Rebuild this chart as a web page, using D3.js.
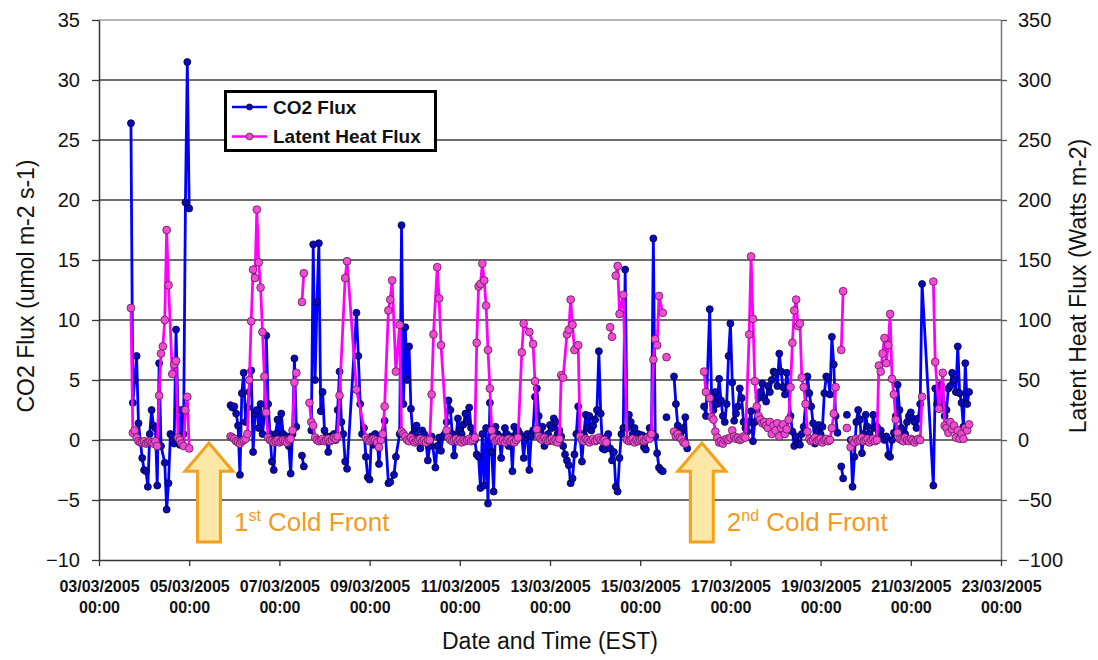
<!DOCTYPE html>
<html>
<head>
<meta charset="utf-8">
<script src="https://cdn.jsdelivr.net/npm/d3@7"></script>
<style>
  body { margin: 0; background: #fff; }
  svg { display: block; }
  text { font-family: "Liberation Sans", Arial, Helvetica, sans-serif; }
</style>
</head>
<body>
<svg id="chart" width="1098" height="660"></svg>
<script>
// Hourly observations, March 2005. Each entry: [hours since 03/03/2005 00:00 EST, value].
// null marks a break in the record.

// CO2 flux (umol m-2 s-1), left axis
const co2Flux = [
  [17,26.4],[18,3.1],[19,5.0],[20,7.0],[21,1.4],[23,-1.5],[24,-2.5],[25,-2.6],[26,-3.9],[27,0.5],
  [28,2.5],[29,1.2],[30,1.0],[31,-3.8],[32,6.4],[33,-0.5],[35,-1.9],[36,-5.8],[37,-3.6],[38,0.5],
  [39,0.3],[40,-0.3],[41,9.2],[42,2.5],[43,-0.4],[44,2.5],[45,0.5],[46,19.8],[47,31.5],[48,19.3],
  [49,null],
  [70,2.9],[71,2.7],[72,2.8],[73,2.2],[74,1.2],[75,-2.9],[76,3.9],[77,5.6],[78,1.5],[79,2.7],
  [80,4.0],[81,5.8],[82,-1.0],[83,2.2],[84,2.5],[85,1.0],[86,3.0],[87,0.5],[88,2.0],[89,8.7],
  [90,3.0],[91,0.5],[92,-1.8],[93,-2.5],[94,0.5],[95,1.7],[96,0.3],[97,2.2],[98,0.5],[99,0.0],
  [100,0.3],[101,-0.5],[102,-2.8],[103,0.5],[104,6.8],[105,1.1],[106,null],[108,-1.3],[109,-2.2],[110,null],
  [113,0.8],[114,16.3],[115,5.0],[116,11.5],[117,16.4],[118,2.4],[119,4.0],[120,0.8],[121,0.3],[122,-1.0],
  [123,0.3],[124,0.3],[125,0.5],[126,0.0],[127,2.5],[128,5.7],[129,1.5],[130,0.5],[131,-1.8],[132,-2.4],
  [137,10.6],[138,7.0],[139,3.0],[140,0.5],[141,1.0],[142,-1.4],[143,-3.1],[144,-3.3],[145,0.3],[146,-0.4],
  [147,0.5],[148,0.0],[149,-2.0],[150,0.3],[152,1.6],[154,-3.6],[155,-3.5],[157,-2.9],[158,-1.4],[160,0.5],
  [161,17.9],[162,3.0],[163,9.4],[164,5.0],[165,7.8],[166,2.6],[167,0.5],[168,1.0],[169,1.2],[170,0.2],
  [171,-0.7],[172,0.8],[173,0.5],[174,-0.2],[175,-1.7],[176,-0.5],[177,0.3],[179,-2.3],[180,-0.5],[181,0.2],
  [182,-0.9],[183,0.3],[184,0.5],[185,1.5],[186,3.3],[187,2.5],[188,0.5],[189,-1.3],[190,0.3],[191,1.8],
  [192,0.8],[193,0.5],[194,1.3],[195,2.2],[196,1.5],[197,2.7],[198,1.0],[199,0.5],[200,0.0],[201,-1.2],
  [202,-1.4],[203,-4.0],[204,0.5],[205,-3.8],[206,1.0],[207,-5.3],[208,3.1],[209,-1.0],[210,-4.3],[211,1.1],
  [212,0.5],[213,0.3],[214,-1.5],[215,0.2],[216,1.0],[217,0.5],[218,-0.5],[219,0.3],[220,-2.6],[221,1.1],
  [222,0.5],[223,0.8],[224,0.5],[225,0.3],[226,-1.5],[227,0.2],[228,0.5],[229,-2.5],[230,0.3],[231,0.8],
  [232,3.6],[233,4.3],[234,2.0],[235,0.5],[236,1.1],[237,-0.5],[238,0.3],[239,0.5],[240,1.25],[241,1.0],
  [242,1.8],[243,1.5],[244,0.5],[245,0.8],[246,0.3],[247,-0.5],[248,-1.2],[249,-1.7],[250,-2.1],[251,-3.6],
  [252,-3.2],[253,-1.2],[254,0.5],[255,2.8],[256,0.5],[257,-1.8],[258,0.5],[259,2.1],[260,1.0],[261,2.0],
  [262,0.8],[263,1.2],[264,1.7],[265,2.5],[266,7.4],[267,2.2],[268,-0.7],[269,-0.8],[270,0.2],[271,0.5],
  [272,-0.7],[273,-1.7],[274,-1.0],[275,-3.9],[276,-4.3],[277,-1.5],[278,0.5],[279,1.0],[280,14.2],[281,1.0],
  [282,2.1],[283,1.5],[284,0.5],[285,1.0],[286,0.3],[287,0.5],[288,0.2],[289,0.4],[290,-0.6],[291,-0.8],
  [292,0.3],[293,1.0],[294,0.5],[295,16.8],[296,0.3],[297,-1.1],[298,-2.3],[299,-2.5],[300,-2.6],[301,null],
  [302,1.9],[303,null],[306,5.3],[307,3.0],[308,1.2],[309,0.5],[310,0.7],[311,1.0],[312,1.9],[313,-0.7],
  [314,null],
  [322,2.8],[323,2.0],[325,10.9],[326,3.5],[327,2.5],[328,4.0],[329,3.0],[330,5.1],[331,3.3],[332,2.0],
  [333,1.5],[334,3.0],[335,7.0],[336,9.7],[337,4.8],[338,1.6],[339,2.2],[340,2.8],[341,4.3],[342,3.5],
  [343,1.5],[344,1.0],[345,0.7],[346,1.5],[347,2.4],[348,-0.1],[349,1.5],[350,2.5],[351,3.5],[352,4.0],
  [353,4.7],[354,3.5],[355,3.2],[356,4.5],[357,4.0],[358,5.0],[359,5.7],[360,5.6],[361,4.5],[362,7.2],
  [363,5.7],[364,4.4],[365,3.8],[366,5.6],[367,4.4],[368,2.0],[369,0.7],[370,-0.5],[371,0.3],[372,-0.3],
  [373,-0.4],[374,0.5],[375,1.1],[376,3.0],[377,5.3],[378,3.9],[379,2.8],[380,1.4],[381,-0.3],[382,0.8],
  [383,1.25],[384,0.5],[385,1.1],[386,3.9],[387,5.3],[388,5.2],[389,3.8],[390,8.6],[391,6.3],[392,2.0],
  [393,0.6],[394,null],[395,-2.2],[396,-3.2],[397,null],[398,2.1],[399,null],
  [400,0.0],[401,-3.9],[402,-1.4],[403,1.5],[404,2.5],[405,1.7],[406,-1.1],[407,0.5],[408,2.1],[409,1.1],
  [410,0.5],[411,-0.1],[412,2.1],[413,1.0],[414,1.1],[415,0.6],[416,0.8],[417,0.3],[418,0.0],[419,0.3],
  [420,-1.25],[421,-1.4],[422,0.0],[423,0.6],[424,2.0],[425,4.6],[426,2.5],[427,1.0],[428,-0.1],[429,0.5],
  [430,1.5],[431,2.0],[432,2.3],[433,1.8],[434,1.5],[435,1.0],[436,1.8],[437,3.0],[438,13.0],[444,-3.8],
  [445,4.3],[446,3.0],[447,4.0],[448,4.6],[449,3.0],[450,2.0],[451,2.5],[452,4.3],[453,4.5],[454,5.6],
  [455,5.0],[456,4.0],[457,7.8],[458,3.9],[459,3.1],[460,1.1],[461,6.4],[462,3.0],[463,4.0]
];

// Latent heat flux (Watts m-2), right axis
const latentHeat = [
  [17,110],[18,6],[19,8],[20,2],[21,-1],[22,-2],[23,-2],[24,-1],[25,-3],[26,-2],
  [27,-1],[28,-2],[29,-3],[30,-1],[31,-5],[32,37],[33,72],[34,78],[35,100],[36,175],
  [37,129],[39,55],[40,63],[41,66],[42,2],[43,0],[44,-3],[45,-5],[46,25],[47,36],
  [48,-7],[49,null],
  [70,3],[71,2],[72,1],[73,-1],[74,-2],[75,-3],[76,-1],[77,0],[78,1],[79,5],
  [80,50],[81,99],[82,142],[83,135],[84,192],[85,148],[86,127],[87,90],[88,53],[89,23],
  [90,2],[91,0],[92,-1],[93,-2],[94,-1],[95,0],[96,-2],[97,-1],[98,0],[99,-1],
  [100,-2],[101,0],[102,1],[103,8],[104,48],[105,56],[106,null],[108,115],[109,139],[110,null],
  [112,31],[113,15],[114,12],[115,2],[116,0],[117,-1],[118,0],[119,1],[120,-1],[121,0],
  [122,1],[123,-1],[124,0],[125,2],[126,1],[127,3],[128,37],[131,135],[132,149],[137,42],
  [142,2],[143,0],[144,-1],[145,0],[146,1],[147,0],[148,-2],[149,-6],[150,0],[151,5],
  [152,28],[154,108],[155,117],[156,133],[158,57],[160,96],[161,7],[162,5],[163,3],[164,0],
  [165,-1],[166,2],[167,0],[168,-2],[169,-1],[170,0],[171,1],[172,-1],[173,0],[174,-2],
  [175,0],[176,0],[177,38],[178,88],[180,144],[181,118],[182,79],[185,8],[186,2],[187,0],
  [188,-1],[189,0],[190,1],[191,-1],[192,0],[193,-2],[194,0],[195,-1],[196,0],[197,1],
  [198,-1],[199,0],[200,2],[201,81],[202,128],[203,130],[204,147],[205,133],[206,112],[207,75],
  [208,43],[209,8],[210,2],[211,-1],[212,0],[213,1],[214,-1],[215,0],[216,-2],[217,0],
  [218,1],[219,-1],[220,0],[221,-2],[222,0],[223,2],[225,73],[226,97],[229,90],[231,80],
  [232,49],[233,9],[234,3],[235,1],[236,0],[237,2],[238,0],[239,-1],[240,0],[241,1],
  [242,-1],[243,0],[244,-2],[245,1],[246,54],[247,52],[249,88],[250,92],[251,117],[252,96],
  [253,75],[255,79],[256,3],[257,0],[258,-1],[259,1],[260,0],[261,-2],[262,0],[263,1],
  [264,-1],[265,0],[266,2],[267,0],[268,-1],[269,0],[270,-2],[271,null],[272,94],[273,86],
  [274,null],[275,137],[276,145],[277,105],[279,121],[281,0],[282,-1],[283,0],[284,1],[285,-2],
  [286,0],[287,-1],[288,0],[289,1],[290,-1],[291,0],[292,2],[293,1],[294,5],[295,67],
  [296,84],[297,79],[298,120],[300,106],[301,null],[302,69],[303,null],[306,7],[307,3],[308,5],
  [309,2],[310,1],[311,-2],[312,-3],[313,null],
  [322,57],[323,40],[325,35],[326,19],[327,17],[328,7],[329,2],[330,-2],[331,-1],[332,-3],
  [333,0],[334,1],[335,0],[336,2],[337,8],[338,3],[339,1],[340,2],[341,0],[342,1],
  [343,3],[344,2],[346,88],[347,153],[348,101],[349,49],[350,28],[351,20],[352,17],[353,14],
  [354,15],[355,12],[356,10],[357,15],[358,5],[359,12],[360,8],[361,14],[362,3],[363,10],
  [364,13],[365,5],[366,9],[367,17],[368,44],[369,81],[370,108],[371,117],[372,95],[373,97],
  [374,52],[375,44],[376,30],[377,7],[378,1],[379,-1],[380,0],[381,2],[382,-1],[383,0],
  [384,1],[385,-2],[386,0],[387,1],[388,-1],[389,0],[390,10],[391,22],[392,44],[393,null],
  [395,75],[396,124],[397,null],[398,10],[399,null],
  [400,-6],[401,0],[402,-2],[403,1],[404,-1],[405,0],[406,2],[407,-1],[408,0],[409,1],
  [410,-2],[411,0],[412,1],[413,-1],[414,0],[415,62],[416,57],[417,72],[418,85],[419,64],
  [420,79],[421,105],[422,51],[423,38],[424,17],[425,6],[426,1],[427,0],[428,-1],[429,2],
  [430,0],[431,-1],[432,1],[433,0],[434,-2],[435,0],[436,1],[437,0],[438,36],[439,null],
  [444,132],[445,65],[447,26],[449,56],[450,12],[451,10],[452,6],[453,15],[454,9],[455,12],
  [456,2],[457,8],[458,1],[459,5],[460,1],[461,10],[462,8],[463,13]
];

// Axis ticks
const co2Ticks = [-10, -5, 0, 5, 10, 15, 20, 25, 30, 35];
const latentTicks = [-100, -50, 0, 50, 100, 150, 200, 250, 300, 350];
const dateTickHours = [0, 48, 96, 144, 192, 240, 288, 336, 384, 432, 480];

// Series names and annotations
const seriesNames = ["CO2 Flux", "Latent Heat Flux"];
const coldFronts = [
  { num: "1", sup: "st", hour: 58.5 },
  { num: "2", sup: "nd", hour: 320.8 }
];

// ---------------------------------------------------------------
const svg = d3.select("#chart");
const W = 1098, H = 660;
const plot = { left: 99, right: 1001, top: 20, bottom: 560 };
const FONT = "Liberation Sans, Arial, sans-serif";

const t0 = Date.UTC(2005, 2, 3, 0, 0);
const toDate = h => new Date(t0 + h * 3600e3);

const x = d3.scaleUtc()
  .domain([toDate(0), toDate(480)])
  .range([plot.left, plot.right]);
const yL = d3.scaleLinear().domain([-10, 35]).range([plot.bottom, plot.top]);
const yR = d3.scaleLinear().domain([-100, 350]).range([plot.bottom, plot.top]);

svg.append("rect").attr("width", W).attr("height", H).attr("fill", "#fff");

// Horizontal gridlines
svg.append("g").selectAll("line")
  .data(co2Ticks.filter(t => t > -10))
  .join("line")
  .attr("x1", plot.left).attr("x2", plot.right)
  .attr("y1", d => yL(d)).attr("y2", d => yL(d))
  .attr("stroke", d => d === 35 ? "#9a9a9a" : "#3c3c3c")
  .attr("stroke-width", 1.3);

// Left axis
const gL = svg.append("g")
  .attr("transform", `translate(${plot.left},0)`)
  .call(d3.axisLeft(yL).tickValues(co2Ticks).tickSize(7).tickPadding(12).tickSizeOuter(0));
gL.select(".domain").attr("stroke", "#333").attr("stroke-width", 1.5);
gL.selectAll(".tick line").attr("stroke", "#333").attr("stroke-width", 1.3);
gL.selectAll(".tick text")
  .attr("font-size", 20).attr("font-family", FONT).attr("fill", "#111");

// Right axis
const gR = svg.append("g")
  .attr("transform", `translate(${plot.right},0)`)
  .call(d3.axisRight(yR).tickValues(latentTicks).tickSize(6).tickPadding(11).tickSizeOuter(0));
gR.select(".domain").attr("stroke", "#777").attr("stroke-width", 1.5);
gR.selectAll(".tick line").attr("stroke", "#555").attr("stroke-width", 1.3);
gR.selectAll(".tick text")
  .attr("font-size", 20).attr("font-family", FONT).attr("fill", "#111");

// Bottom axis with two-line date labels
const gB = svg.append("g")
  .attr("transform", `translate(0,${plot.bottom})`)
  .call(d3.axisBottom(x).tickValues(dateTickHours.map(toDate)).tickSize(6).tickSizeOuter(0).tickFormat(""));
gB.select(".domain").attr("stroke", "#333").attr("stroke-width", 1.5);
gB.selectAll(".tick line").attr("stroke", "#333").attr("stroke-width", 1.3);
const fmtDate = d3.utcFormat("%d/%m/%Y");
const fmtTime = d3.utcFormat("%H:%M");
gB.selectAll(".tick").each(function (d) {
  const t = d3.select(this).append("text")
    .attr("text-anchor", "middle")
    .attr("font-size", 16).attr("font-weight", "bold")
    .attr("font-family", FONT).attr("fill", "#111");
  t.append("tspan").attr("x", 0).attr("y", 32).text(fmtDate(d));
  t.append("tspan").attr("x", 0).attr("y", 53).text(fmtTime(d));
});

// Axis titles
svg.append("text")
  .attr("transform", `translate(34,${(plot.top + plot.bottom) / 2 - 4}) rotate(-90)`)
  .attr("text-anchor", "middle").attr("font-size", 23).attr("fill", "#111")
  .text("CO2 Flux (umol m-2 s-1)");
svg.append("text")
  .attr("transform", `translate(1086,${(plot.top + plot.bottom) / 2 - 4}) rotate(-90)`)
  .attr("text-anchor", "middle").attr("font-size", 23).attr("fill", "#111")
  .text("Latent Heat Flux (Watts m-2)");
svg.append("text")
  .attr("x", (plot.left + plot.right) / 2).attr("y", 649)
  .attr("text-anchor", "middle").attr("font-size", 23).attr("fill", "#111")
  .text("Date and Time (EST)");

// Series
const series = [
  { data: co2Flux, y: yL, line: "#0000ff", fill: "#0a0ab8", stroke: "#00003a", r: 3.5 },
  { data: latentHeat, y: yR, line: "#ff00ff", fill: "#f04ad4", stroke: "#5a1a50", r: 3.9 }
];

series.forEach(s => {
  const line = d3.line()
    .defined(d => d[1] !== null)
    .x(d => x(toDate(d[0])))
    .y(d => s.y(d[1]));
  svg.append("path")
    .datum(s.data)
    .attr("fill", "none")
    .attr("stroke", s.line)
    .attr("stroke-width", 2.8)
    .attr("stroke-linejoin", "round")
    .attr("d", line);
  svg.append("g").selectAll("circle")
    .data(s.data.filter(d => d[1] !== null))
    .join("circle")
    .attr("cx", d => x(toDate(d[0])))
    .attr("cy", d => s.y(d[1]))
    .attr("r", s.r)
    .attr("fill", s.fill)
    .attr("stroke", s.stroke)
    .attr("stroke-width", 0.8);
});

// Legend
const lg = svg.append("g");
lg.append("rect")
  .attr("x", 225.5).attr("y", 91.5).attr("width", 210).attr("height", 59)
  .attr("fill", "#fff").attr("stroke", "#000").attr("stroke-width", 3);
series.forEach((s, i) => {
  const yy = 107 + i * 29.5;
  lg.append("line").attr("x1", 232).attr("x2", 267).attr("y1", yy).attr("y2", yy)
    .attr("stroke", s.line).attr("stroke-width", 2.6);
  lg.append("circle").attr("cx", 249.5).attr("cy", yy).attr("r", s.r - 0.5)
    .attr("fill", s.fill).attr("stroke", s.stroke).attr("stroke-width", 0.8);
  lg.append("text").attr("x", 273).attr("y", yy + 6.5)
    .attr("font-size", 19).attr("font-weight", "bold").attr("fill", "#111")
    .text(seriesNames[i]);
});

// Cold front arrows and labels
coldFronts.forEach(cf => {
  const cx = x(toDate(cf.hour));
  const yTip = yL(-0.25), yHead = yL(-2.6), yBase = yL(-8.5);
  const hw = 24, sw = 11.5;
  const pts = [
    [cx, yTip], [cx + hw, yHead], [cx + sw, yHead], [cx + sw, yBase],
    [cx - sw, yBase], [cx - sw, yHead], [cx - hw, yHead]
  ];
  svg.append("path")
    .attr("d", d3.line()(pts) + "Z")
    .attr("fill", "#fce7a6")
    .attr("stroke", "#f4a01c")
    .attr("stroke-width", 3)
    .attr("stroke-linejoin", "miter");
  const t = svg.append("text")
    .attr("x", cx + hw + 1).attr("y", 531)
    .attr("font-size", 26).attr("fill", "#f29b1f");
  t.append("tspan").text(cf.num);
  t.append("tspan").attr("font-size", 16).attr("dy", -10).text(cf.sup);
  t.append("tspan").attr("dy", 10).text(" Cold Front");
});
</script>
</body>
</html>
